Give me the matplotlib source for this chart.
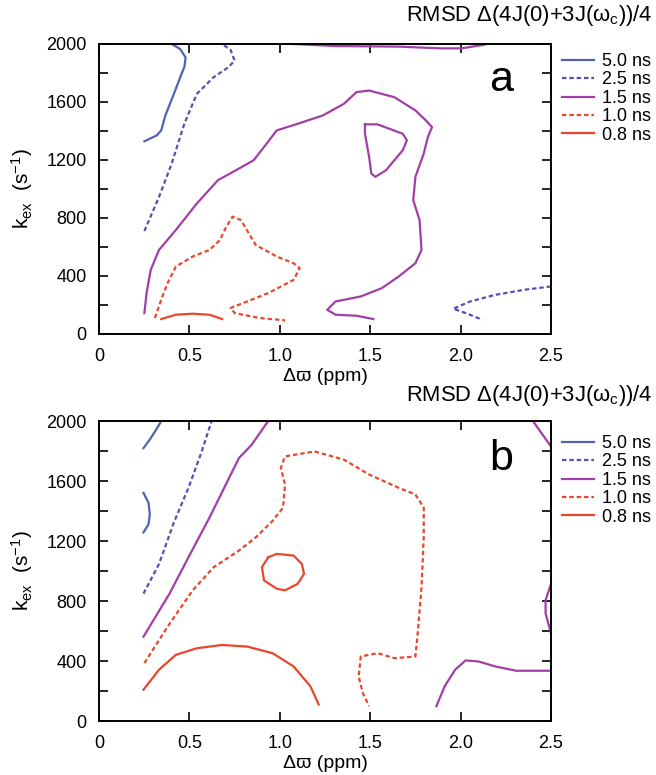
import matplotlib
matplotlib.use("Agg")
import matplotlib.pyplot as plt
from matplotlib.lines import Line2D
from matplotlib.ticker import MultipleLocator

plt.rcParams['font.family'] = ['Liberation Sans', 'DejaVu Sans']
plt.rcParams['mathtext.default'] = 'regular'

# legend levels
levels = ['5.0 ns', '2.5 ns', '1.5 ns', '1.0 ns', '0.8 ns']

# panel a contour pieces (x = delta omega ppm, y = kex s^-1)
a_50 = [([0.251, 0.32, 0.344, 0.367, 0.414, 0.46, 0.472, 0.479, 0.448, 0.402],
         [1329, 1370, 1404, 1507, 1656, 1805, 1840, 1908, 1966, 2000])]
a_25 = [([0.251, 0.332, 0.402, 0.472, 0.541, 0.634, 0.716, 0.750, 0.728, 0.681],
         [710, 946, 1175, 1450, 1656, 1771, 1840, 1885, 1959, 2000]),
        ([2.5, 2.353, 2.191, 2.052, 1.959, 2.029, 2.121],
         [328, 305, 270, 224, 174, 144, 98])]
a_15 = [([0.251, 0.263, 0.286, 0.332, 0.425, 0.541, 0.658, 0.774, 0.855, 0.913, 0.983,
          1.099, 1.238, 1.355, 1.424, 1.494, 1.634, 1.750, 1.808, 1.842, 1.819, 1.796,
          1.750, 1.738, 1.773, 1.784, 1.750, 1.657, 1.564, 1.448, 1.308, 1.262, 1.308,
          1.424, 1.517],
         [144, 282, 442, 580, 717, 900, 1061, 1141, 1198, 1290, 1404,
          1450, 1507, 1588, 1668, 1679, 1633, 1542, 1473, 1427, 1359, 1244,
          1084, 923, 786, 580, 488, 396, 316, 259, 224, 167, 133,
          126, 103]),
        ([1.471, 1.540, 1.680, 1.703, 1.680, 1.587, 1.529, 1.506, 1.494, 1.471, 1.471],
         [1446, 1446, 1381, 1336, 1267, 1129, 1084, 1107, 1221, 1381, 1446]),
        ([1.076, 1.308, 1.657, 1.889, 2.005, 2.121, 2.144],
         [2000, 1986, 1982, 1970, 1970, 1993, 2000])]
a_10 = [([0.309, 0.344, 0.379, 0.425, 0.518, 0.611, 0.669, 0.704, 0.739, 0.785, 0.867,
          0.983, 1.076, 1.110, 1.076, 0.936, 0.797, 0.727, 0.751, 0.890, 1.029],
         [110, 236, 350, 465, 534, 580, 648, 740, 809, 786, 614,
          534, 488, 454, 373, 282, 213, 179, 144, 110, 94])]
a_08 = [([0.344, 0.425, 0.518, 0.611, 0.681],
         [103, 133, 140, 133, 103])]

# panel b contour pieces
b_50 = [([0.246, 0.286, 0.332, 0.344], [1819, 1885, 1974, 2000]),
        ([0.246, 0.274, 0.281, 0.274, 0.246], [1521, 1455, 1378, 1312, 1257])]
b_25 = [([0.246, 0.332, 0.414, 0.495, 0.565, 0.623],
         [849, 1047, 1323, 1555, 1786, 2000])]
b_15 = [([0.246, 0.390, 0.495, 0.611, 0.774, 0.844, 0.936],
         [562, 849, 1092, 1356, 1753, 1841, 2000]),
        ([1.866, 1.912, 1.970, 2.028, 2.098, 2.191, 2.307, 2.423, 2.5],
         [99, 232, 342, 404, 397, 364, 335, 335, 335]),
        ([2.5, 2.470, 2.470, 2.5], [915, 805, 717, 584]),
        ([2.400, 2.5], [2000, 1830])]
b_10 = [([0.251, 0.379, 0.518, 0.634, 0.774, 0.867, 0.960, 1.018, 1.029, 1.006, 1.029,
          1.192, 1.355, 1.494, 1.657, 1.750, 1.796, 1.796, 1.784, 1.761, 1.750, 1.634,
          1.541, 1.448, 1.436, 1.459, 1.494],
         [386, 628, 871, 1025, 1136, 1224, 1334, 1422, 1577, 1687, 1764,
          1797, 1742, 1643, 1555, 1510, 1422, 1224, 893, 562, 430, 419,
          452, 430, 298, 187, 99])]
b_08 = [([0.246, 0.332, 0.425, 0.541, 0.681, 0.820, 0.960, 1.076, 1.169, 1.215],
         [209, 342, 441, 485, 507, 496, 452, 364, 232, 110]),
        ([0.936, 0.983, 1.076, 1.122, 1.134, 1.099, 1.029, 0.983, 0.913, 0.901, 0.936],
         [1091, 1114, 1103, 1047, 981, 915, 871, 882, 937, 1025, 1091])]

colors = ['#4f63b0', '#5550b5', '#a23fa6', '#e8472c', '#e8472c']
styles = ['-', (0, (2, 1.3)), '-', (0, (2, 1.3)), '-']

fig = plt.figure(figsize=(6.56, 7.75), dpi=100)
W, H = 656, 775

def px_axes(l, t, r, b):
    return fig.add_axes([l / W, 1 - b / H, (r - l) / W, (b - t) / H])

panels = [
    (px_axes(99, 44, 551, 334), [a_50, a_25, a_15, a_10, a_08], 'a', 15, 53),
    (px_axes(99, 421, 551, 721), [b_50, b_25, b_15, b_10, b_08], 'b', 395, 435),
]

for ax, pieces, letter, title_y, leg_top in panels:
    for plist, c, ls in zip(pieces, colors, styles):
        for xs, ys in plist:
            ax.plot(xs, ys, color=c, linestyle=ls, lw=1.6)
    ax.set_xlim(0, 2.5)
    ax.set_ylim(0, 2000)
    ax.yaxis.set_major_locator(MultipleLocator(400))
    ax.yaxis.set_minor_locator(MultipleLocator(200))
    ax.set_xticks([0, 0.5, 1.0, 1.5, 2.0, 2.5])
    ax.set_xticklabels(['0', '0.5', '1.0', '1.5', '2.0', '2.5'])
    ax.tick_params(which='both', direction='in', top=True, right=True,
                   length=6.5, width=1.2, labelsize=13)
    ax.tick_params(axis='y', pad=9)
    ax.tick_params(axis='x', pad=10)
    for s in ax.spines.values():
        s.set_linewidth(1.4)
    ax.set_xlabel('Δϖ (ppm)', fontsize=14, labelpad=2)
    ax.set_ylabel('k$_{ex}$  (s$^{−1}$)', fontsize=15, labelpad=8)
    ax.text(0.89, 0.875, letter, transform=ax.transAxes, fontsize=31,
            ha='center', va='center')
    fig.text(653 / W, 1 - title_y / H, 'RMSD Δ(4J(0)+3J(ω$_c$))/4',
             fontsize=15.8, ha='right', va='center')
    handles = [Line2D([0], [0], color=c, linestyle=ls, lw=1.6)
               for c, ls in zip(colors, styles)]
    fig.legend(handles, levels, loc='upper left',
               bbox_to_anchor=(562 / W, 1 - leg_top / H),
               bbox_transform=fig.transFigure, frameon=False, fontsize=13,
               handlelength=1.75, handletextpad=0.45, labelspacing=0.08,
               borderpad=0, borderaxespad=0)

fig.savefig('out.png', dpi=100)
